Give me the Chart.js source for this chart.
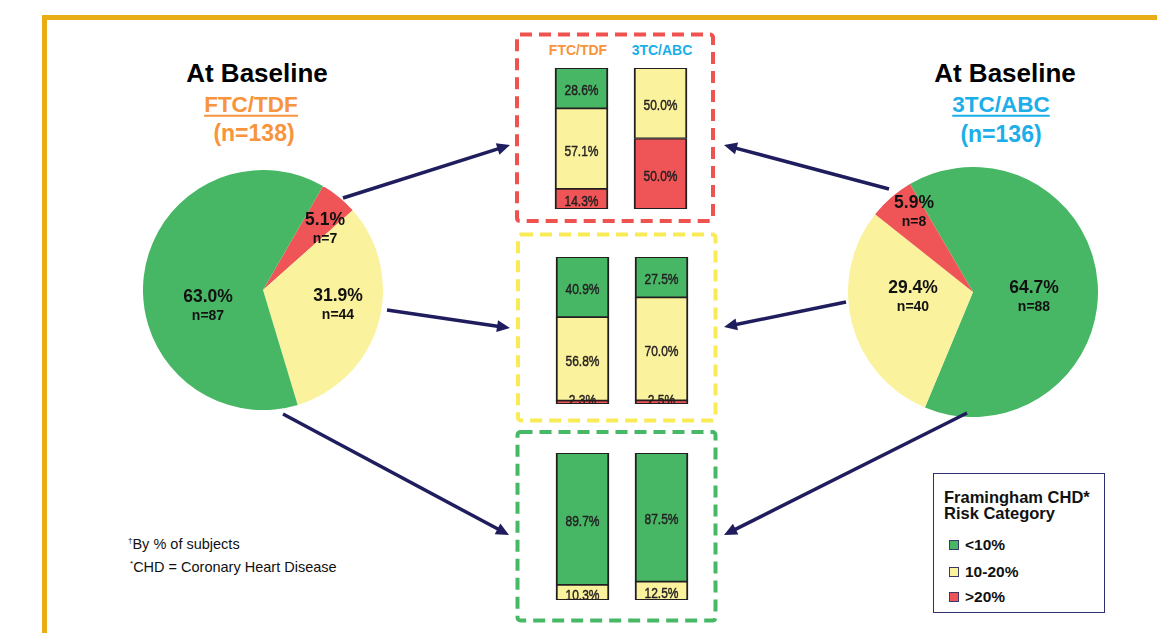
<!DOCTYPE html>
<html>
<head>
<meta charset="utf-8">
<title>Framingham CHD Risk Category</title>
<script src="https://cdn.jsdelivr.net/npm/chart.js@4.4.0/dist/chart.umd.min.js"></script>
<style>
  body { margin: 0; width: 1157px; height: 633px; position: relative; overflow: hidden; background: #fff;
         font-family: "Liberation Sans", Arial, Helvetica, sans-serif; }
  .abs { position: absolute; white-space: nowrap; line-height: 1; }
  .c { transform: translate(-50%, -50%); }
  .l { transform: translateY(-50%); }
  .frame { position: absolute; left: 42px; top: 15px; width: 1200px; height: 700px;
           border-left: 5px solid #E9AE17; border-top: 5px solid #E9AE17; }
  .title { font-weight: bold; font-size: 26px; color: #000; }
  .arm { font-weight: bold; font-size: 22.5px; text-decoration: underline; text-underline-offset: 3px;
         text-decoration-thickness: 2px; }
  .count { font-weight: bold; font-size: 23px; }
  .pct { font-weight: bold; font-size: 17.5px; color: #111; }
  .n { font-weight: bold; font-size: 14px; color: #111; }
  .head { font-weight: bold; font-size: 14px; }
  .orange { color: #F7943C; }
  .blue { color: #1CAEE8; }
  .box { position: absolute; }
  .legend { position: absolute; left: 933px; top: 473px; width: 172px; height: 140px; box-sizing: border-box;
            border: 1.5px solid #2E2F6F; }
  .lgtitle { font-weight: bold; font-size: 16.5px; color: #111; }
  .lgitem { font-weight: bold; font-size: 15.5px; color: #111; }
  .sw { position: absolute; width: 10px; height: 10px; box-sizing: border-box; border: 1px solid #3A3A6A; }
  .note { font-size: 14.5px; color: #111; }
  .note sup { font-size: 8px; vertical-align: 6px; }
  svg { position: absolute; left: 0; top: 0; }
</style>
</head>
<body>
<div class="frame"></div>

<div class="abs c title" style="left:257px; top:73px;">At Baseline</div>
<div class="abs c arm orange" style="left:251px; top:105px;">FTC/TDF</div>
<div class="abs c count orange" style="left:254px; top:133px;">(n=138)</div>

<div class="abs c title" style="left:1005px; top:73px;">At Baseline</div>
<div class="abs c arm blue" style="left:1001px; top:105px;">3TC/ABC</div>
<div class="abs c count blue" style="left:1001px; top:134px;">(n=136)</div>

<div class="box" style="left:143px; top:170px; width:240px; height:240px;"><canvas id="pieFtc"></canvas></div>
<div class="box" style="left:848px; top:167px; width:250px; height:250px;"><canvas id="pieAbc"></canvas></div>

<div class="box" style="left:542px; top:68px; width:158px; height:141px;"><canvas id="barHigh"></canvas></div>
<div class="box" style="left:543px; top:257px; width:158px; height:147px;"><canvas id="barMid"></canvas></div>
<div class="box" style="left:543px; top:453px; width:158px; height:147px;"><canvas id="barLow"></canvas></div>

<div id="pieText"></div>

<div class="abs c head orange" style="left:578px; top:50px;">FTC/TDF</div>
<div class="abs c head blue" style="left:662px; top:50px;">3TC/ABC</div>

<div class="legend"></div>
<div class="abs l lgtitle" style="left:944px; top:497px;">Framingham CHD*</div>
<div class="abs l lgtitle" style="left:944px; top:512.5px;">Risk Category</div>
<div id="legendItems"></div>

<div class="abs l note" style="left:128px; top:544px;"><sup>†</sup>By % of subjects</div>
<div class="abs l note" style="left:130px; top:567px;"><sup>*</sup>CHD = Coronary Heart Disease</div>

<svg id="overlay" width="1157" height="633"></svg>

<script>
// risk categories and colours
var riskCategories = ['<10%', '10-20%', '>20%'];
var riskColors = ['#47B766', '#FAF29C', '#EF5556'];

// baseline pies (order: <10%, 10-20%, >20%)
var ftcPiePct = [63.0, 31.9, 5.1];
var ftcPieN = [87, 44, 7];
var abcPiePct = [64.7, 29.4, 5.9];
var abcPieN = [88, 40, 8];

// arms shown in each bar panel
var armLabels = ['FTC/TDF', '3TC/ABC'];

// baseline >20% group, % in each category afterwards [FTC/TDF, 3TC/ABC]
var highGroupLow = [28.6, 0];
var highGroupMid = [57.1, 50.0];
var highGroupHigh = [14.3, 50.0];

// baseline 10-20% group
var midGroupLow = [40.9, 27.5];
var midGroupMid = [56.8, 70.0];
var midGroupHigh = [2.3, 2.5];

// baseline <10% group
var lowGroupLow = [89.7, 87.5];
var lowGroupMid = [10.3, 12.5];
var lowGroupHigh = [0, 0];

// pie chart helper
function makePie(id, pct, rotation, reverse) {
    var values = pct.slice();
    var colors = riskColors.slice();
    var labels = riskCategories.slice();
    if (reverse) { values.reverse(); colors.reverse(); labels.reverse(); }
    return new Chart(document.getElementById(id), {
        type: 'pie',
        data: {
            labels: labels,
            datasets: [{
                data: values,
                backgroundColor: colors,
                borderWidth: 0,
                offset: 0,
                hoverOffset: 0
            }]
        },
        options: {
            responsive: true,
            maintainAspectRatio: false,
            animation: false,
            events: [],
            rotation: rotation,
            layout: { padding: 0 },
            plugins: { legend: { display: false }, tooltip: { enabled: false } }
        }
    });
}

makePie('pieFtc', ftcPiePct, 30, true);
makePie('pieAbc', abcPiePct, -30.3, false);

// labels inside the pies
var pieLabelSpots = [
    { pct: ftcPiePct, n: ftcPieN, pos: [[208, 297], [338, 296], [325, 220]] },
    { pct: abcPiePct, n: abcPieN, pos: [[1034, 288], [913, 288], [914, 203]] }
];
var pieText = document.getElementById('pieText');
pieLabelSpots.forEach(function (p) {
    p.pct.forEach(function (v, i) {
        var a = document.createElement('div');
        a.className = 'abs c pct';
        a.style.left = p.pos[i][0] + 'px';
        a.style.top = p.pos[i][1] + 'px';
        a.textContent = v.toFixed(1) + '%';
        pieText.appendChild(a);
        var b = document.createElement('div');
        b.className = 'abs c n';
        b.style.left = p.pos[i][0] + 'px';
        b.style.top = (p.pos[i][1] + 18) + 'px';
        b.textContent = 'n=' + p.n[i];
        pieText.appendChild(b);
    });
});

// value labels on stacked bars (narrow type)
var barLabels = {
    id: 'barLabels',
    afterDatasetsDraw: function (chart) {
        var ctx = chart.ctx;
        ctx.save();
        ctx.fillStyle = '#231F20';
        ctx.strokeStyle = '#231F20';
        ctx.lineWidth = 0.45;
        ctx.font = '15px "Liberation Sans", Arial, sans-serif';
        ctx.textAlign = 'center';
        ctx.textBaseline = 'middle';
        chart.data.datasets.forEach(function (ds, di) {
            chart.getDatasetMeta(di).data.forEach(function (bar, i) {
                var v = ds.data[i];
                if (!v) return;
                var h = Math.abs(bar.base - bar.y);
                var y = h < 12 ? bar.base - 3 : (bar.y + bar.base) / 2 + 3;
                ctx.save();
                ctx.translate(bar.x, y);
                ctx.scale(0.8, 1);
                ctx.fillText(v.toFixed(1) + '%', 0, 0);
                ctx.strokeText(v.toFixed(1) + '%', 0, 0);
                ctx.restore();
            });
        });
        ctx.restore();
    }
};

function makeBars(id, low, mid, high) {
    return new Chart(document.getElementById(id), {
        type: 'bar',
        data: {
            labels: armLabels,
            datasets: [
                { label: riskCategories[2], data: high, backgroundColor: riskColors[2] },
                { label: riskCategories[1], data: mid, backgroundColor: riskColors[1] },
                { label: riskCategories[0], data: low, backgroundColor: riskColors[0] }
            ]
        },
        options: {
            responsive: true,
            maintainAspectRatio: false,
            animation: false,
            events: [],
            layout: { padding: 0 },
            datasets: {
                bar: {
                    barThickness: 53,
                    borderColor: '#231F20',
                    borderWidth: { left: 2, right: 2, top: 1.25, bottom: 1.25 },
                    borderSkipped: false
                }
            },
            scales: {
                x: { display: false, stacked: true },
                y: { display: false, stacked: true, min: 0, max: 100 }
            },
            plugins: { legend: { display: false }, tooltip: { enabled: false } }
        },
        plugins: [barLabels]
    });
}

makeBars('barHigh', highGroupLow, highGroupMid, highGroupHigh);
makeBars('barMid', midGroupLow, midGroupMid, midGroupHigh);
makeBars('barLow', lowGroupLow, lowGroupMid, lowGroupHigh);

// legend entries
var legendItems = document.getElementById('legendItems');
var legendY = [545, 571.5, 596.5];
riskCategories.forEach(function (cat, i) {
    var sw = document.createElement('div');
    sw.className = 'sw';
    sw.style.left = '949px';
    sw.style.top = (legendY[i] - 5) + 'px';
    sw.style.background = riskColors[i];
    legendItems.appendChild(sw);
    var t = document.createElement('div');
    t.className = 'abs l lgitem';
    t.style.left = '965px';
    t.style.top = legendY[i] + 'px';
    t.textContent = cat;
    legendItems.appendChild(t);
});

// dashed panels and arrows
var svg = document.getElementById('overlay');
var NS = 'http://www.w3.org/2000/svg';
function dashedBox(x, y, w, h, color) {
    var r = document.createElementNS(NS, 'rect');
    r.setAttribute('x', x); r.setAttribute('y', y);
    r.setAttribute('width', w); r.setAttribute('height', h);
    r.setAttribute('rx', 3);
    r.setAttribute('fill', 'none');
    r.setAttribute('stroke', color);
    r.setAttribute('stroke-width', 4);
    r.setAttribute('stroke-dasharray', '12 7');
    svg.appendChild(r);
}
dashedBox(517, 34.5, 196, 186.5, '#EF5350');
dashedBox(518, 234.5, 197.5, 186, '#F8EB55');
dashedBox(517.5, 432, 198, 188.5, '#47B866');

function arrow(x1, y1, x2, y2) {
    var dx = x2 - x1, dy = y2 - y1;
    var len = Math.sqrt(dx * dx + dy * dy);
    var ux = dx / len, uy = dy / len;
    var hl = 13, hw = 6;
    var bx = x2 - ux * hl, by = y2 - uy * hl;
    var line = document.createElementNS(NS, 'line');
    line.setAttribute('x1', x1); line.setAttribute('y1', y1);
    line.setAttribute('x2', bx + ux * 2); line.setAttribute('y2', by + uy * 2);
    line.setAttribute('stroke', '#1F1D5E');
    line.setAttribute('stroke-width', 3.5);
    svg.appendChild(line);
    var head = document.createElementNS(NS, 'polygon');
    head.setAttribute('points', [x2, y2, bx - uy * hw, by + ux * hw, bx + uy * hw, by - ux * hw].join(' '));
    head.setAttribute('fill', '#1F1D5E');
    svg.appendChild(head);
}
arrow(343, 198, 510, 145);
arrow(387, 310, 510, 328);
arrow(283, 414, 509, 535);
arrow(889, 189, 724, 145);
arrow(846, 302, 724, 327);
arrow(967, 413, 724, 535);
</script>
</body>
</html>
